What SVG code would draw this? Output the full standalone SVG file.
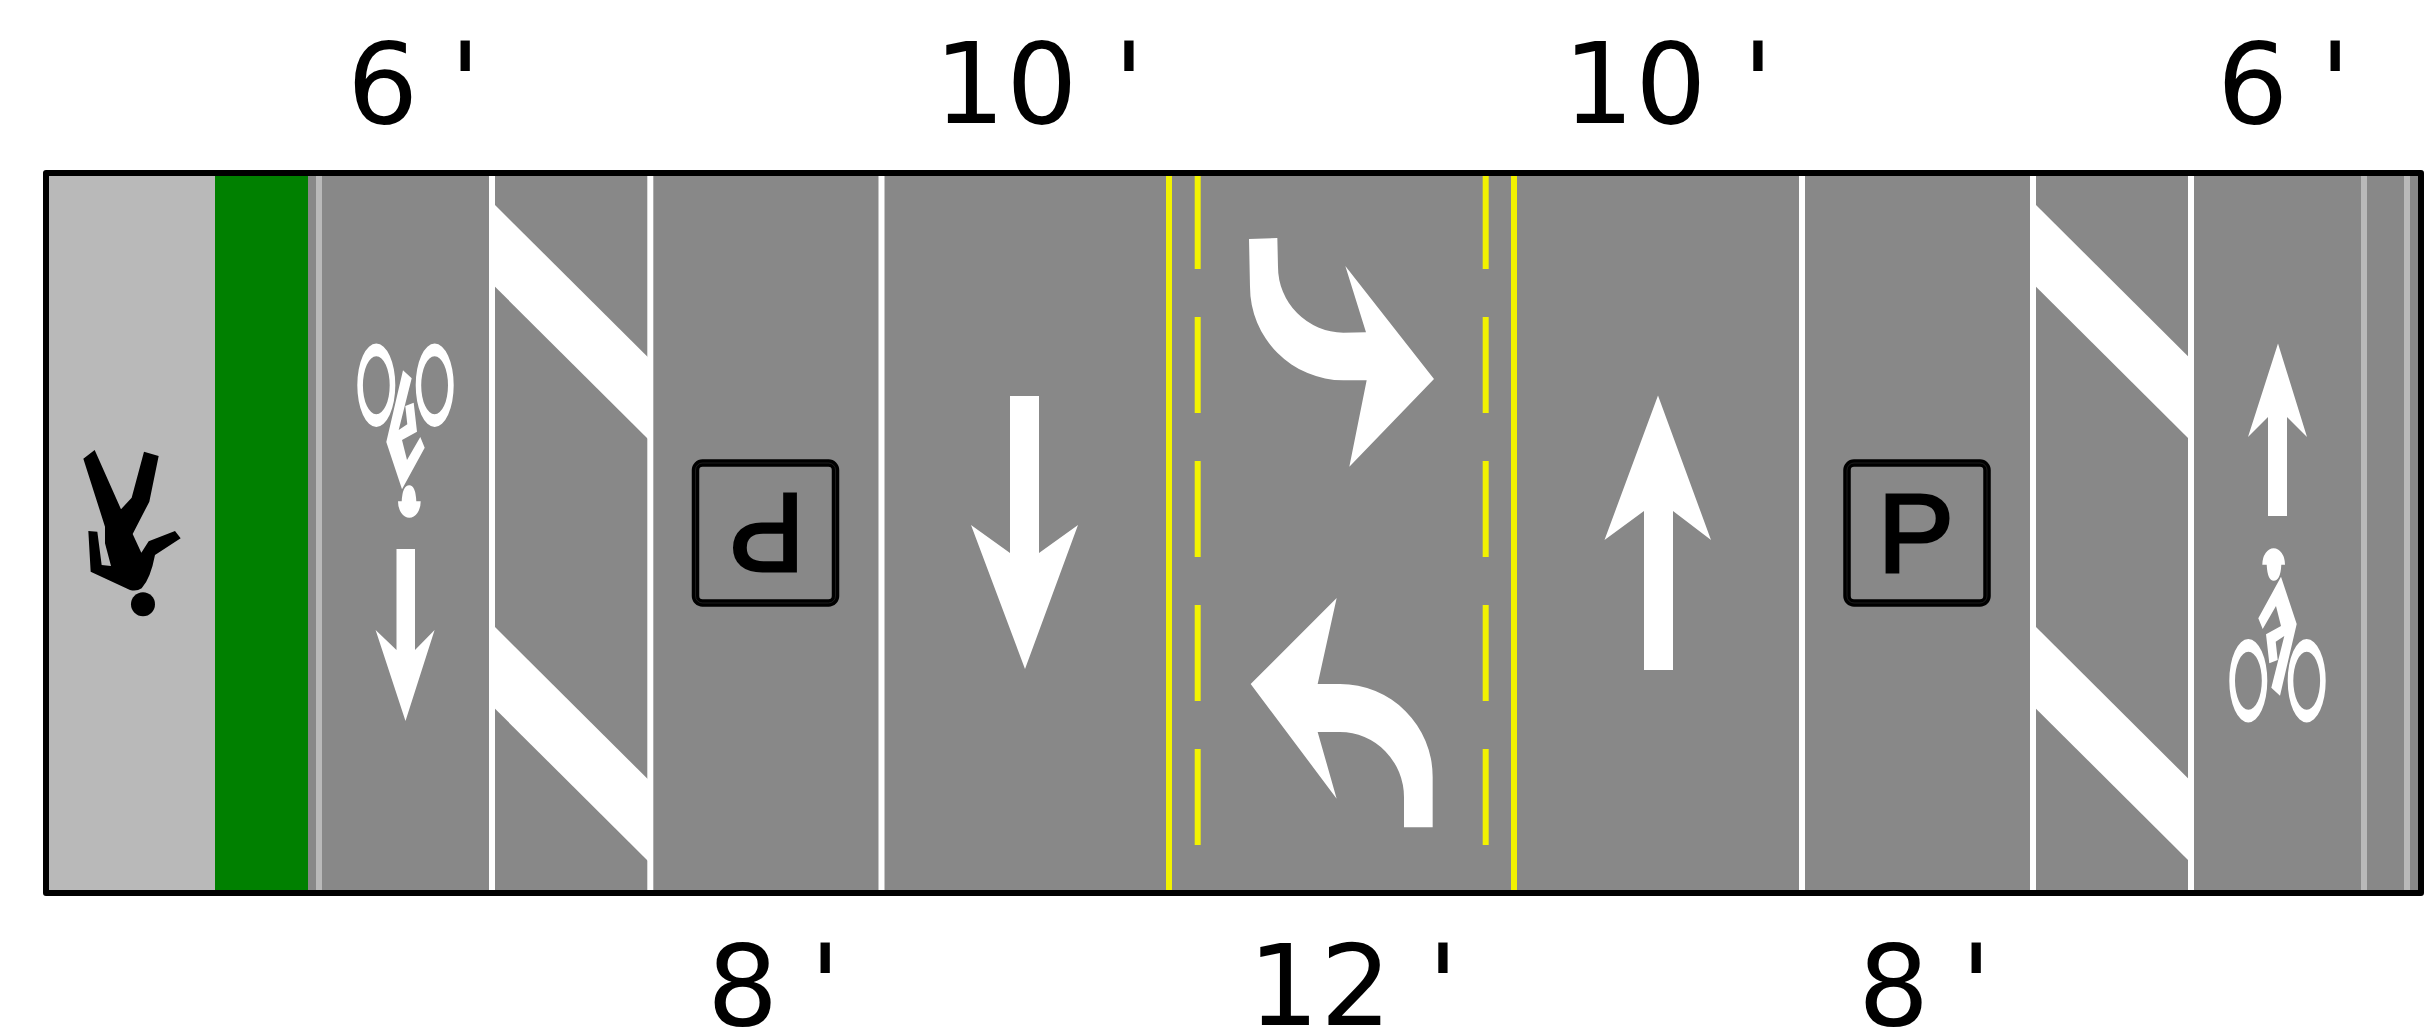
<svg xmlns="http://www.w3.org/2000/svg" width="2434" height="1034" viewBox="0 0 2434 1034">
<style>
.lbl{font-family:"DejaVu Sans",sans-serif;font-size:112px;letter-spacing:1px;fill:#000}
.one{word-spacing:-6px}
.two{word-spacing:-1.500px}
.wl{fill:#fff}
.yl{fill:#f2f200}
.lg{fill:#b9b9b9}
.sign{fill:none;stroke:#000;stroke-width:7.5}
.sign2{fill:none;stroke:#2a2a2a;stroke-width:.7}
.pl{font-family:"Liberation Sans",Arial,sans-serif;font-size:111px;fill:#000;stroke:#000;stroke-width:3;stroke-linejoin:miter}
</style>
<defs>
<g id="bike">
<path fill="#fff" fill-rule="evenodd" d="M2229.3 680.7a19 41.7 0 1 0 38 0a19 41.7 0 1 0-38 0ZM2235 680.7a13.4 29 0 1 1 26.8 0a13.4 29 0 1 1-26.8 0Z"/>
<path fill="#fff" fill-rule="evenodd" d="M2287.7 680.7a19 41.7 0 1 0 38 0a19 41.7 0 1 0-38 0ZM2293.3 680.7a13.4 29 0 1 1 26.8 0a13.4 29 0 1 1-26.8 0Z"/>
<polygon fill="#fff" points="2281,576.7 2296.7,624 2280,695.7 2271.3,687.7 2284.3,636 2275.7,641.7 2277.7,660 2269.3,663.3 2266,634.3 2281,626 2276,606 2262.7,629 2258.3,618.3"/>
<path fill="#fff" d="M2262.3 564.7A11.3 16.4 0 0 1 2285 564.7L2281.3 564.7Q2280.500 580.700 2273.700 580.700Q2267.500 580.700 2266.700 564.700Z"/>
</g>
</defs>
<g id="road">
<rect x="46" y="173" width="2375" height="720" fill="#888"/>
<rect id="sidewalk" x="46" y="173" width="169" height="720" fill="#b9b9b9"/>
<rect id="buffer" x="215" y="173" width="93" height="720" fill="#008000"/>
<rect class="lg" x="316" y="173" width="6" height="720"/>
<rect class="lg" x="2361" y="173" width="6" height="720"/>
<rect class="lg" x="2404" y="173" width="6" height="720"/>
</g>
<g id="hatches">
<polygon class="wl" points="492,202 650,359.300 650,441 492,283.700"/>
<polygon class="wl" points="492,624 650,781.300 650,863 492,705.700"/>
<polygon class="wl" points="2033,202 2191,359.300 2191,441 2033,283.700"/>
<polygon class="wl" points="2033,624 2191,781.300 2191,863 2033,705.700"/>
</g>
<g id="lane-lines">
<rect class="wl" x="489" y="173" width="6" height="720"/>
<rect class="wl" x="647.300" y="173" width="6" height="720"/>
<rect class="wl" x="878.500" y="173" width="6" height="720"/>
<rect class="wl" x="1799" y="173" width="6" height="720"/>
<rect class="wl" x="2030" y="173" width="6" height="720"/>
<rect class="wl" x="2188" y="173" width="6" height="720"/>
<rect class="yl" x="1166" y="173" width="6" height="720"/>
<rect class="yl" x="1511" y="173" width="6" height="720"/>
<path class="yl" d="M1194.700 173h6v96h-6zM1194.700 317h6v96h-6zM1194.700 461h6v96h-6zM1194.700 605h6v96h-6zM1194.700 749h6v96h-6z"/>
<path class="yl" d="M1482.700 173h6v96h-6zM1482.700 317h6v96h-6zM1482.700 461h6v96h-6zM1482.700 605h6v96h-6zM1482.700 749h6v96h-6z"/>
</g>
<g id="pedestrian" transform="translate(60 430) scale(.33333)" fill="#000">
<path d="M70 86L104 60L183 238L215 203L252 65L296 78L268 215L218 312L244 368L266 334L345 303L362 325L285 375Q272 445 245 475Q230 485 210 480L92 425L85 303L112 305L125 405L153 408L135 340L135 290Z"/>
<circle cx="249" cy="523" r="36"/>
</g>
<use id="bike-left" href="#bike" transform="translate(2683 1066) rotate(180)"/>
<use id="bike-right" href="#bike"/>
<g id="arrows" fill="#fff">
<polygon id="arrow-bike-down" points="396.500,549 415,549 415,650 434.600,630 405.500,721 375.600,630 396.500,650"/>
<polygon id="arrow-bike-up" points="2268,516 2287,516 2287,417 2307,437 2278,343.500 2248,437 2268,417"/>
<polygon id="arrow-down" points="1010,396 1039,396 1039,553 1078,525 1025,669 971,525 1010,553"/>
<polygon id="arrow-up" points="1644,670 1673,670 1673,511 1711,540 1658,395.500 1604.500,540 1644,511"/>
<g transform="translate(1140 160) scale(.33333)"><path id="turn-top" d="M327 237L412 234L414 320A198 198 0 0 0 610 518L678 517L616 318L882 657L628 920L680 661L610 661A281 281 0 0 1 330 380Z"/></g>
<g transform="translate(1140 560) scale(.33333)"><path id="turn-bottom" d="M878 802L792 802L792 712A192 196 0 0 0 600 516L533 516L590 716L332 372L590 114L533 372L600 372A278 278 0 0 1 878 650Z"/></g>
</g>
<g id="parking-left">
<rect class="sign" x="695.500" y="463" width="140" height="140" rx="7"/>
<rect class="sign2" x="695.500" y="463" width="140" height="140" rx="7"/>
<text class="pl" transform="translate(804.800 493.800) rotate(180) scale(1.03 1)">P</text>
</g>
<g id="parking-right">
<rect class="sign" x="1847" y="463" width="140" height="140" rx="7"/>
<rect class="sign2" x="1847" y="463" width="140" height="140" rx="7"/>
<text class="pl" transform="translate(1877.800 571.800) scale(1.03 1)">P</text>
</g>
<rect id="border" x="46" y="173" width="2375" height="720" fill="none" stroke="#000" stroke-width="6" stroke-linejoin="round"/>
<g id="labels">
<text class="lbl one" x="347" y="123" xml:space="preserve">6 '</text>
<text class="lbl two" x="934" y="123" xml:space="preserve">10 '</text>
<text class="lbl two" x="1563" y="123" xml:space="preserve">10 '</text>
<text class="lbl one" x="2217" y="123" xml:space="preserve">6 '</text>
<text class="lbl one" x="707" y="1025" xml:space="preserve">8 '</text>
<text class="lbl two" x="1248" y="1025" xml:space="preserve">12 '</text>
<text class="lbl one" x="1858" y="1025" xml:space="preserve">8 '</text>
</g>
</svg>
